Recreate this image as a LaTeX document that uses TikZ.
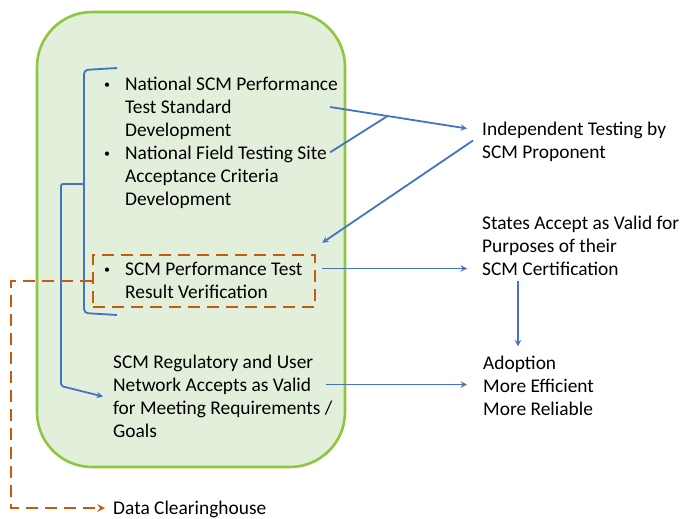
\documentclass[tikz,border=0pt]{standalone}
\usepackage{fontspec}
\setmainfont{Carlito}
\usepackage{xcolor}
\usetikzlibrary{positioning, arrows, calc}
\definecolor{panelfill}{HTML}{E2EFDA}
\definecolor{paneledge}{HTML}{8DC63F}
\definecolor{lineblue}{HTML}{4472C4}
\definecolor{dashorange}{HTML}{C55A11}
\newcommand{\lns}[1]{\begin{tabular}{@{}l@{}}#1\end{tabular}}
\newcommand{\bul}[1]{\begin{tabular}{@{}l@{}l@{}}\makebox[21pt][l]{\raisebox{2pt}{\fontsize{12}{12}\selectfont\textbullet}} & #1\end{tabular}}
\tikzstyle{panel} = [rectangle, rounded corners=55pt, minimum width=308pt, minimum height=455pt, draw=paneledge, fill=panelfill, line width=2.6pt]
\tikzstyle{txt} = [anchor=west, inner sep=0pt, font=\fontsize{19.4}{23}\selectfont]
\tikzstyle{dbox} = [rectangle, minimum width=222pt, minimum height=52pt, draw=dashorange, line width=2.4pt, dash pattern=on 12pt off 7pt]
\tikzstyle{arrow} = [line width=1.8pt, lineblue, ->, >=stealth]
\tikzstyle{link} = [line width=1.8pt, lineblue]
\tikzstyle{darrow} = [line width=2.4pt, dashorange, dash pattern=on 12pt off 7pt, ->, >=stealth]

\begin{document}
\begin{tikzpicture}[x=1pt, y=-1pt]
\useasboundingbox (0,0) rectangle (680,519);

\node (panel) [panel] at (191,239.5) {};

\node (std) [txt] at (104,108.5) {\bul{National SCM Performance\\ & Test Standard\\ & Development}};
\node (field) [txt, below=0pt of std.south west, anchor=north west] {\bul{National Field Testing Site\\ & Acceptance Criteria\\ & Development}};
\node (verif) [txt] at (104,282) {\bul{SCM Performance Test\\ & Result Verification}};
\node (verbox) [dbox] at (204,281) {};
\node (reg) [txt] at (113,398) {\lns{SCM Regulatory and User\\ Network Accepts as Valid\\ for Meeting Requirements /\\ Goals}};
\node (data) [txt] at (113,509.5) {Data Clearinghouse};

\node (indep) [txt] at (482,142) {\lns{Independent Testing by\\ SCM Proponent}};
\node (states) [txt] at (482,247.5) {\lns{States Accept as Valid for\\ Purposes of their\\ SCM Certification}};
\node (adopt) [txt] at (483,387.5) {\lns{Adoption\\ More Efficient\\ More Reliable}};

% bracket round the bullets
\coordinate (brk) at (84,184);
\draw [link, rounded corners=4pt] (117,68) -- (84,70) -- (84,313) -- (117,315);
\draw [arrow, rounded corners=2pt] (brk) -- (61,184) -- (61,386) -- ([xshift=-10pt, yshift=1.5pt]reg.west);

% arrows to the right
\coordinate (a) at ([xshift=-8pt, yshift=1.5pt]std.east);
\coordinate (b) at ([xshift=-15pt, yshift=13.5pt]indep.west);
\coordinate (join) at ($(a)!0.42!(b)$);
\draw [arrow] (a) -- (b);
\draw [link] ([xshift=3pt, yshift=25.5pt]field.east) -- (join);
\draw [arrow] ([xshift=-9pt, yshift=1.5pt]indep.west) -- ([xshift=6pt, yshift=11pt]verbox.north east);
\coordinate (v) at ([xshift=6pt, yshift=12.5pt]verbox.east);
\coordinate (c) at ([xshift=-15pt]states.west);
\draw [arrow] (v) -- (v -| c);
\draw [arrow] ([xshift=36pt, yshift=1.5pt]states.south west) -- ([xshift=35pt, yshift=6.5pt]adopt.north west);
\coordinate (r) at ([xshift=-7pt, yshift=13.5pt]reg.east);
\coordinate (s) at ([xshift=-16pt]adopt.west);
\draw [arrow] (r) -- (r -| s);

% dashed link to the data clearinghouse
\draw [darrow] (verbox.west) -- ++(-81,0) |- ([xshift=-8pt, yshift=1.5pt]data.west);

\end{tikzpicture}
\end{document}
